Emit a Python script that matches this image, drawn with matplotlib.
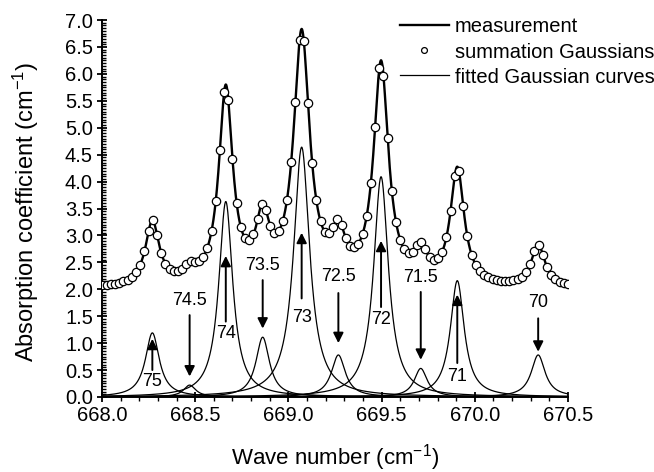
import numpy as np
import matplotlib
matplotlib.use("Agg")
import matplotlib.pyplot as plt
from matplotlib.ticker import MultipleLocator, FormatStrFormatter

plt.rcParams.update({
    "font.family": "Liberation Sans",
    "mathtext.fontset": "custom",
    "mathtext.rm": "Liberation Sans",
    "mathtext.it": "Liberation Sans",
    "axes.unicode_minus": False,
})

# fitted line parameters (one per band label)
labels = ["75", "74.5", "74", "73.5", "73", "72.5", "72", "71.5", "71", "70"]
centers = [668.27, 668.47, 668.664, 668.862, 669.071, 669.268, 669.497, 669.71, 669.906, 670.34]
heights = [1.19, 0.22, 3.63, 1.11, 4.64, 0.78, 4.09, 0.53, 2.16, 0.78]
widths = [0.045, 0.04, 0.045, 0.044, 0.052, 0.045, 0.048, 0.042, 0.045, 0.045]
baseline = 2.0  # vertical offset of measurement / summation trace

# sample grid of the "summation" circles
circle_start, circle_step, circle_end = 668.0025, 0.0225, 670.5

x_fine = np.linspace(668.0, 670.5, 2001)
x_circ = np.arange(circle_start, circle_end + 1e-9, circle_step)


def band(x, c, h, w):
    return h * w**2 / ((x - c) ** 2 + w**2)


curves = [band(x_fine, c, h, w) for c, h, w in zip(centers, heights, widths)]
meas = baseline + np.sum(curves, axis=0)
summ = baseline + np.sum([band(x_circ, c, h, w) for c, h, w in zip(centers, heights, widths)], axis=0)

fig = plt.figure(figsize=(6.54, 4.72), dpi=100)
ax = fig.add_axes([0.156, 0.159, 0.7125, 0.7985])

ax.plot(x_fine, meas, color="k", lw=1.7, zorder=3, label="measurement")
ax.plot(x_circ, summ, ls="none", marker="o", ms=6, mfc="white", mec="k", mew=0.9,
        zorder=4, label="summation Gaussians")
for i, cv in enumerate(curves):
    ax.plot(x_fine, cv, color="k", lw=0.9, zorder=2,
            label="fitted Gaussian curves" if i == 0 else None)

# arrows: (text y, tail y, tip y), in the order of the labels
arrows = [
    (0.28, 0.50, 1.08),
    (1.80, 1.52, 0.38),
    (1.17, 1.40, 2.62),
    (2.45, 2.17, 1.27),
    (1.48, 1.83, 3.05),
    (2.23, 1.93, 1.00),
    (1.43, 1.67, 2.90),
    (2.21, 1.95, 0.69),
    (0.38, 0.63, 1.90),
    (1.75, 1.46, 0.84),
]
for lab, xc, (ty, y0, y1) in zip(labels, centers, arrows):
    ax.annotate("", xy=(xc, y1), xytext=(xc, y0),
                arrowprops=dict(arrowstyle="-|>", color="k", lw=1.4,
                                mutation_scale=15, shrinkA=0, shrinkB=0))
    ax.text(xc, ty, lab, ha="center", va="center", fontsize=13)

ax.set_xlim(668.0, 670.5)
ax.set_ylim(0.0, 7.0)
ax.xaxis.set_major_locator(MultipleLocator(0.5))
ax.xaxis.set_minor_locator(MultipleLocator(0.1))
ax.yaxis.set_major_locator(MultipleLocator(0.5))
ax.yaxis.set_minor_locator(MultipleLocator(0.05))
ax.xaxis.set_major_formatter(FormatStrFormatter("%.1f"))
ax.yaxis.set_major_formatter(FormatStrFormatter("%.1f"))
for s in ("top", "right"):
    ax.spines[s].set_visible(False)
for s in ("left", "bottom"):
    ax.spines[s].set_linewidth(1.4)
ax.tick_params(which="major", direction="inout", length=7, width=1.3, labelsize=14.5, pad=3)
ax.tick_params(which="minor", direction="in", length=3, width=1.0)
ax.tick_params(axis="x", which="minor", direction="out")

ax.set_xlabel(r"Wave number (cm$^{-1}$)", fontsize=16, labelpad=12)
ax.set_ylabel(r"Absorption coefficient (cm$^{-1}$)", fontsize=17)
ax.yaxis.set_label_coords(-0.13, 0.49)

ax.legend(loc="upper left", bbox_to_anchor=(0.612, 0.963), bbox_transform=fig.transFigure,
          frameon=False, fontsize=14.5, handlelength=2.4, handletextpad=0.3,
          labelspacing=0.3, borderpad=0, borderaxespad=0, markerscale=0.7)

fig.savefig("out.png", dpi=100)
